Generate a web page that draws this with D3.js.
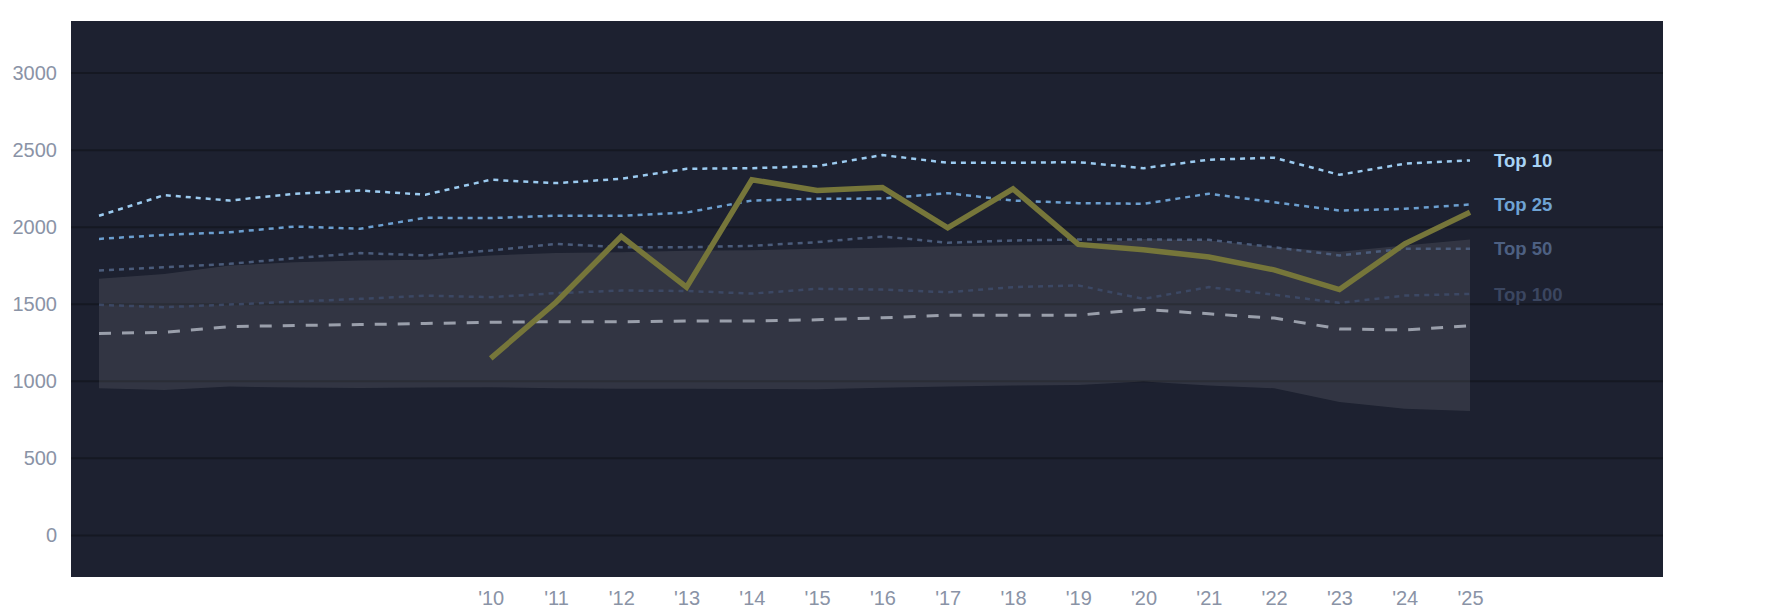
<!DOCTYPE html>
<html>
<head>
<meta charset="utf-8">
<script src="https://cdn.jsdelivr.net/npm/d3@7"></script>
<style>
  body { margin: 0; background: #fff; }
  svg text { font-family: "Liberation Sans", Arial, Helvetica, sans-serif; }
</style>
</head>
<body>
<svg id="chart"></svg>
<script>
// season values
var years = [2004, 2005, 2006, 2007, 2008, 2009, 2010, 2011, 2012, 2013, 2014,
             2015, 2016, 2017, 2018, 2019, 2020, 2021, 2022, 2023, 2024, 2025];
var top10  = [2074, 2208, 2173, 2217, 2238, 2211, 2308, 2286, 2314, 2379, 2383,
              2396, 2468, 2418, 2418, 2422, 2383, 2438, 2451, 2340, 2412, 2433];
var top25  = [1924, 1950, 1967, 2004, 1990, 2061, 2059, 2075, 2074, 2095, 2173,
              2184, 2186, 2221, 2173, 2156, 2152, 2217, 2162, 2108, 2119, 2147];
var top50  = [1719, 1740, 1762, 1799, 1832, 1817, 1849, 1892, 1870, 1870, 1879,
              1903, 1940, 1899, 1914, 1920, 1920, 1918, 1870, 1817, 1860, 1860];
var top100 = [1496, 1481, 1498, 1517, 1535, 1556, 1546, 1572, 1589, 1586, 1569,
              1600, 1595, 1578, 1611, 1622, 1535, 1611, 1562, 1509, 1556, 1567];
var median = [1310, 1318, 1355, 1362, 1368, 1375, 1383, 1387, 1386, 1391, 1391,
              1399, 1412, 1429, 1429, 1429, 1466, 1438, 1410, 1340, 1333, 1361];
var bandHigh = [1665, 1697, 1751, 1773, 1784, 1788, 1817, 1833, 1838, 1847, 1851,
                1860, 1867, 1877, 1883, 1886, 1924, 1914, 1870, 1840, 1881, 1920];
var bandLow  = [955, 944, 966, 959, 957, 959, 961, 955, 952, 951, 950,
                948, 958, 966, 972, 976, 999, 972, 955, 866, 822, 807];

var teamYears = [2010, 2011, 2012, 2013, 2014, 2015, 2016, 2017,
                 2018, 2019, 2020, 2021, 2022, 2023, 2024, 2025];
var team = [1149, 1513, 1940, 1610, 2308, 2238, 2258, 1996,
            2249, 1888, 1853, 1806, 1723, 1595, 1892, 2097];

var yTicks = [0, 500, 1000, 1500, 2000, 2500, 3000];
var xTicks = [2010, 2011, 2012, 2013, 2014, 2015, 2016, 2017,
              2018, 2019, 2020, 2021, 2022, 2023, 2024, 2025];

var width = 1785, height = 614;
var plotL = 71, plotR = 1663, plotT = 21, plotB = 577;

var svg = d3.select('#chart').attr('width', width).attr('height', height);

var x = d3.scaleLinear().domain([2004, 2025]).range([99, 1470]);
var y = d3.scaleLinear().domain([-270, 3338]).range([plotB, plotT]);

svg.append('rect')
  .attr('x', plotL).attr('y', plotT)
  .attr('width', plotR - plotL).attr('height', plotB - plotT)
  .attr('fill', '#1d2130');

// grid
svg.append('g').selectAll('line').data(yTicks).enter().append('line')
  .attr('x1', plotL).attr('x2', plotR)
  .attr('y1', function(d){ return y(d); })
  .attr('y2', function(d){ return y(d); })
  .attr('stroke', '#151822')
  .attr('stroke-width', 2);

// axes
var yAxis = svg.append('g')
  .attr('transform', 'translate(' + plotL + ',0)')
  .call(d3.axisLeft(y).tickValues(yTicks).tickSize(0).tickPadding(14)
    .tickFormat(d3.format('d')));
var xAxis = svg.append('g')
  .attr('transform', 'translate(0,' + plotB + ')')
  .call(d3.axisBottom(x).tickValues(xTicks).tickSize(0).tickPadding(14)
    .tickFormat(function(d){ return "'" + String(d).slice(2); }));
[yAxis, xAxis].forEach(function(a){
  a.select('.domain').remove();
  a.selectAll('text')
    .style('font-size', '20px')
    .style('font-family', '"Liberation Sans", Arial, sans-serif')
    .attr('fill', '#8a93a6');
});

// range band
var band = d3.area()
  .x(function(d, i){ return x(years[i]); })
  .y0(function(d, i){ return y(bandLow[i]); })
  .y1(function(d){ return y(d); });

svg.append('path')
  .datum(bandHigh)
  .attr('d', band)
  .attr('fill', '#ffffff')
  .attr('fill-opacity', 0.095);

function drawLine(values, xs, color, w, dash)
{
  var line = d3.line()
    .x(function(d, i){ return x(xs[i]); })
    .y(function(d){ return y(d); });

  return svg.append('path')
    .datum(values)
    .attr('d', line)
    .attr('fill', 'none')
    .attr('stroke', color)
    .attr('stroke-width', w)
    .attr('stroke-dasharray', dash);
}

drawLine(top100, years, '#3c4864', 2.5, '5,5');
drawLine(median, years, '#9a9fab', 3, '12,11');
drawLine(top50, years, '#4b5c7b', 2.5, '5,5');
drawLine(top25, years, '#6c9fd0', 2.5, '5,5');
drawLine(top10, years, '#9ccbf0', 2.5, '5,5');
drawLine(team, teamYears, '#76763a', 5.5, null);

// end labels
var labels = [
  { name: 'Top 10', values: top10, color: '#a8d3f5' },
  { name: 'Top 25', values: top25, color: '#6fa3d4' },
  { name: 'Top 50', values: top50, color: '#4d6082' },
  { name: 'Top 100', values: top100, color: '#3b4660' }
];

svg.append('g').selectAll('text').data(labels).enter().append('text')
  .attr('x', x(2025) + 24)
  .attr('y', function(d){ return y(d.values[d.values.length - 1]); })
  .attr('dy', '0.36em')
  .attr('fill', function(d){ return d.color; })
  .style('font-size', '18.5px')
  .style('font-weight', 'bold')
  .text(function(d){ return d.name; });
</script>
</body>
</html>
